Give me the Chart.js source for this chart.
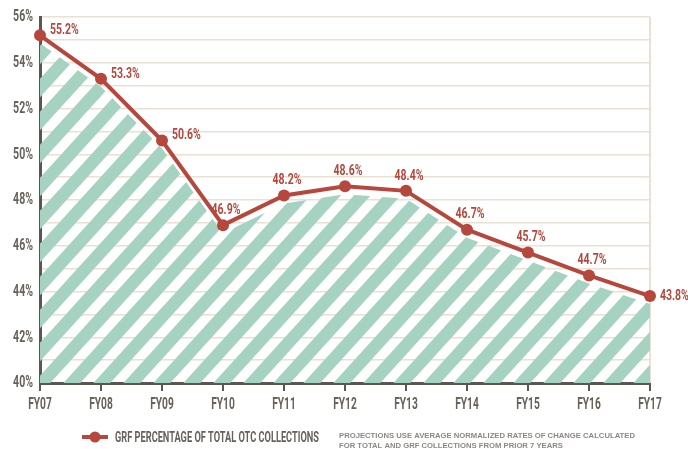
<!DOCTYPE html>
<html>
<head>
<meta charset="utf-8">
<script src="https://cdn.jsdelivr.net/npm/chart.js@4/dist/chart.umd.min.js"></script>
<style>
  html, body { margin: 0; padding: 0; background: #fff; }
  canvas { display: block; }
</style>
</head>
<body>
<canvas id="myChart" width="688" height="449"></canvas>
<script>
const years = ['FY07', 'FY08', 'FY09', 'FY10', 'FY11', 'FY12', 'FY13', 'FY14', 'FY15', 'FY16', 'FY17'];
const grfShare = [55.2, 53.3, 50.6, 46.9, 48.2, 48.6, 48.4, 46.7, 45.7, 44.7, 43.8];
const legendLabel = 'GRF PERCENTAGE OF TOTAL OTC COLLECTIONS';
const noteLines = [
  'PROJECTIONS USE AVERAGE NORMALIZED RATES OF CHANGE CALCULATED',
  'FOR TOTAL AND GRF COLLECTIONS FROM PRIOR 7 YEARS'
];

const RED = '#b5473c';
const DARK = '#5b5650';
const TEXT = '#67615a';
const GRID = '#e9e2d3';
const GREEN = '#a6d2c1';
const FONT = 'Roboto, "Liberation Sans", sans-serif';

// narrow gothic look: draw text squeezed horizontally
function squeezed(ctx, text, x, y, opts) {
  ctx.save();
  ctx.font = 'bold ' + opts.size + 'px ' + FONT;
  ctx.fillStyle = opts.color;
  ctx.textBaseline = 'middle';
  ctx.textAlign = 'left';
  const w = ctx.measureText(text).width;
  const sx = opts.width ? opts.width / w : opts.sx;
  const sw = w * sx;
  let left = x;
  if (opts.align === 'center') left = x - sw / 2;
  if (opts.align === 'right') left = x - sw;
  ctx.translate(left, y);
  ctx.scale(sx, 1);
  ctx.fillText(text, 0, 0);
  ctx.restore();
}

// slanted stripes for the area under the line
function makeHatch() {
  const p = 30, h = 33;
  const c = document.createElement('canvas');
  c.width = p; c.height = h;
  const g = c.getContext('2d');
  g.strokeStyle = GREEN;
  g.lineWidth = 12.5;
  g.lineCap = 'square';
  g.beginPath();
  g.moveTo(-p, h); g.lineTo(p, -h);
  g.moveTo(0, h); g.lineTo(p, 0);
  g.moveTo(0, 2 * h); g.lineTo(2 * p, 0);
  g.stroke();
  return g.createPattern(c, 'repeat');
}

const ctx = document.getElementById('myChart').getContext('2d');
const hatch = makeHatch();

const hatchPlugin = {
  id: 'hatch',
  beforeDatasetsDraw(chart) {
    const { ctx, chartArea: a } = chart;
    const pts = chart.getDatasetMeta(0).data;
    const gap = 8;
    ctx.save();
    ctx.strokeStyle = GRID;
    ctx.lineWidth = 2;
    ctx.beginPath();
    ctx.moveTo(a.right, a.top);
    ctx.lineTo(a.right, a.bottom);
    ctx.stroke();
    ctx.beginPath();
    ctx.rect(a.left, a.top, a.right - a.left, a.bottom - a.top);
    ctx.clip();
    ctx.beginPath();
    ctx.moveTo(pts[0].x, a.bottom);
    pts.forEach(p => ctx.lineTo(p.x, p.y + gap));
    ctx.lineTo(pts[pts.length - 1].x, a.bottom);
    ctx.closePath();
    ctx.fillStyle = hatch;
    ctx.fill();
    ctx.restore();
  }
};

// tick labels drawn through the scales, squeezed
const tickPlugin = {
  id: 'tickLabels',
  afterDraw(chart) {
    const { ctx, scales } = chart;
    const x = scales.x, y = scales.y;
    y.ticks.forEach(t => {
      if (t.value % 2 !== 0) return;
      squeezed(ctx, t.value + '%', 33, y.getPixelForValue(t.value),
        { size: 17, sx: 0.62, color: TEXT, align: 'right' });
    });
    years.forEach((lab, i) => {
      squeezed(ctx, lab, x.getPixelForValue(i), y.bottom + 22,
        { size: 17, sx: 0.6, color: TEXT, align: 'center' });
    });
  }
};

const labelPlugin = {
  id: 'valueLabels',
  afterDatasetsDraw(chart) {
    const { ctx } = chart;
    const pts = chart.getDatasetMeta(0).data;
    pts.forEach((p, i) => {
      const txt = grfShare[i].toFixed(1) + '%';
      const o = { size: 15, sx: 0.7, color: RED };
      if (i < 3 || i === pts.length - 1) {
        squeezed(ctx, txt, p.x + 10, p.y - (i === pts.length - 1 ? 0 : 5), Object.assign(o, { align: 'left' }));
      } else {
        squeezed(ctx, txt, p.x + 3, p.y - 15, Object.assign(o, { align: 'center' }));
      }
    });
  }
};

const legendPlugin = {
  id: 'bottomLegend',
  afterDraw(chart) {
    const { ctx } = chart;
    const y = 437;
    ctx.save();
    ctx.strokeStyle = RED;
    ctx.lineWidth = 4;
    ctx.beginPath();
    ctx.moveTo(82, y);
    ctx.lineTo(108, y);
    ctx.stroke();
    ctx.fillStyle = RED;
    ctx.beginPath();
    ctx.arc(95, y, 5.5, 0, Math.PI * 2);
    ctx.fill();
    ctx.restore();

    squeezed(ctx, legendLabel, 115, y + 1, { size: 15, width: 204, color: TEXT, align: 'left' });

    ctx.save();
    ctx.fillStyle = '#8d8883';
    ctx.font = 'bold 8px "Liberation Sans", Arial, sans-serif';
    ctx.textBaseline = 'middle';
    const w0 = ctx.measureText(noteLines[0]).width;
    const sx = 296 / w0;
    ctx.translate(339, 0);
    ctx.scale(sx, 1);
    ctx.fillText(noteLines[0], 0, y - 1);
    ctx.fillText(noteLines[1], 0, y + 9);
    ctx.restore();
  }
};

new Chart(ctx, {
  type: 'line',
  data: {
    labels: years,
    datasets: [{
      label: legendLabel,
      data: grfShare,
      borderColor: RED,
      backgroundColor: RED,
      borderWidth: 4,
      pointRadius: 6,
      pointBackgroundColor: RED,
      pointBorderWidth: 0,
      tension: 0,
      fill: false,
      clip: false
    }]
  },
  options: {
    responsive: false,
    maintainAspectRatio: false,
    animation: false,
    layout: { padding: { left: 0, top: 17, right: 38, bottom: 30 } },
    plugins: {
      legend: { display: false },
      tooltip: { enabled: false }
    },
    scales: {
      x: {
        type: 'category',
        offset: false,
        afterFit(scale) { scale.height = 36; },
        grid: {
          drawOnChartArea: false,
          drawTicks: true,
          tickLength: 8,
          color: DARK,
          lineWidth: 2
        },
        border: { display: true, color: DARK, width: 3 },
        ticks: { display: false, autoSkip: false }
      },
      y: {
        min: 40,
        max: 56,
        afterFit(scale) { scale.width = 40; },
        grid: {
          color: GRID,
          lineWidth: 1.5,
          drawTicks: false
        },
        border: { display: true, color: DARK, width: 3 },
        ticks: { display: false, stepSize: 1 }
      }
    }
  },
  plugins: [hatchPlugin, tickPlugin, labelPlugin, legendPlugin]
});
</script>
</body>
</html>
